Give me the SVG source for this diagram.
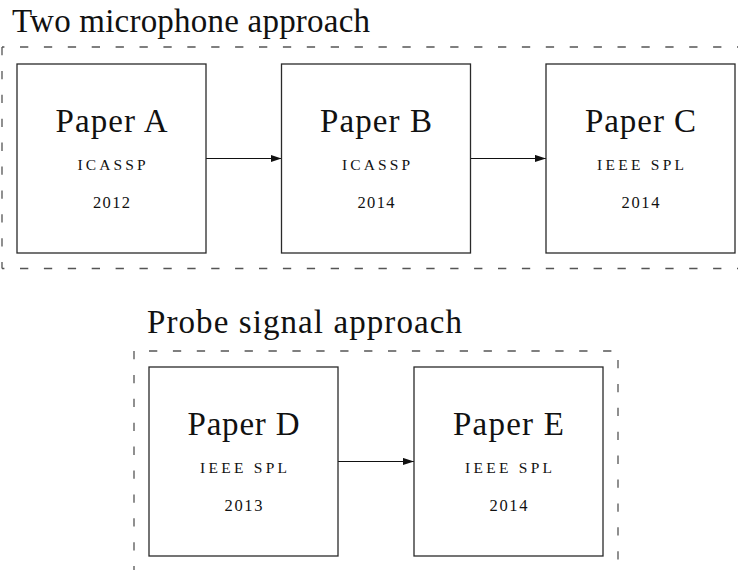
<svg xmlns="http://www.w3.org/2000/svg" width="738" height="570" viewBox="0 0 738 570">
  <style>
    .title { font-family: "Liberation Serif", "DejaVu Serif", serif; font-size: 33px; fill: #111; }
    .name { font-family: "Liberation Serif", "DejaVu Serif", serif; font-size: 33px; fill: #111; text-anchor: middle; }
    .venue { font-family: "Liberation Serif", "DejaVu Serif", serif; font-size: 15.5px; fill: #111; text-anchor: middle; }
    .year { font-family: "Liberation Serif", "DejaVu Serif", serif; font-size: 16.5px; fill: #111; text-anchor: middle; }
    .box { fill: #fff; stroke: #2a2a2a; stroke-width: 1.3; }
    .group line { stroke: #555; stroke-width: 1.3; stroke-dasharray: 8.3 15.6; fill: none; }
    .edge { stroke: #111; stroke-width: 1.1; fill: none; }
  </style>
  <defs>
    <marker id="arrow" markerUnits="userSpaceOnUse" markerWidth="12" markerHeight="8" refX="11" refY="4" orient="auto">
      <path d="M0,0.4 L11,4 L0,7.6 Z" fill="#111"/>
    </marker>
  </defs>

  <rect width="738" height="570" fill="#fff"/>

  <!-- group frame: two microphone approach -->
  <g id="group-two-mic" class="group">
    <text class="title" x="12" y="31.5" textLength="358">Two microphone approach</text>
    <line x1="2" y1="47" x2="750" y2="47" stroke-dashoffset="5.9"/>
    <line x1="2" y1="268.5" x2="750" y2="268.5" stroke-dashoffset="5.9"/>
    <line x1="2" y1="47" x2="2" y2="268.5" stroke-dashoffset="0"/>
  </g>

  <!-- group frame: probe signal approach -->
  <g id="group-probe" class="group">
    <text class="title" x="147" y="333" textLength="315">Probe signal approach</text>
    <line x1="134" y1="351" x2="618" y2="351" stroke-dashoffset="8.9"/>
    <line x1="134" y1="351" x2="134" y2="575" stroke-dashoffset="0"/>
    <line x1="618" y1="351" x2="618" y2="575" stroke-dashoffset="14.9"/>
  </g>

  <!-- connectors -->
  <g id="connectors">
    <line class="edge" x1="206" y1="158.5" x2="281.5" y2="158.5" marker-end="url(#arrow)"/>
    <line class="edge" x1="470.5" y1="158.5" x2="546" y2="158.5" marker-end="url(#arrow)"/>
    <line class="edge" x1="338" y1="461.5" x2="414" y2="461.5" marker-end="url(#arrow)"/>
  </g>

  <g id="paper-a">
    <rect class="box" x="17" y="64" width="189" height="189"/>
    <text class="name" x="111.5" y="132" textLength="112">Paper A</text>
    <text class="venue" x="111.5" y="170" textLength="68">ICASSP</text>
    <text class="year" x="111.5" y="208" textLength="37">2012</text>
  </g>

  <g id="paper-b">
    <rect class="box" x="281.5" y="64" width="189" height="189"/>
    <text class="name" x="376" y="132" textLength="112">Paper B</text>
    <text class="venue" x="376" y="170" textLength="68">ICASSP</text>
    <text class="year" x="376" y="208" textLength="37">2014</text>
  </g>

  <g id="paper-c">
    <rect class="box" x="546" y="64" width="189" height="189"/>
    <text class="name" x="640.5" y="132" textLength="111">Paper C</text>
    <text class="venue" x="640.5" y="170" textLength="87">IEEE SPL</text>
    <text class="year" x="640.5" y="208" textLength="38">2014</text>
  </g>

  <g id="paper-d">
    <rect class="box" x="149" y="367" width="189" height="189"/>
    <text class="name" x="243.5" y="435" textLength="112">Paper D</text>
    <text class="venue" x="243.5" y="473" textLength="87">IEEE SPL</text>
    <text class="year" x="243.5" y="511" textLength="38">2013</text>
  </g>

  <g id="paper-e">
    <rect class="box" x="414" y="367" width="189" height="189"/>
    <text class="name" x="508.5" y="435" textLength="111">Paper E</text>
    <text class="venue" x="508.5" y="473" textLength="87">IEEE SPL</text>
    <text class="year" x="508.5" y="511" textLength="38">2014</text>
  </g>
</svg>
